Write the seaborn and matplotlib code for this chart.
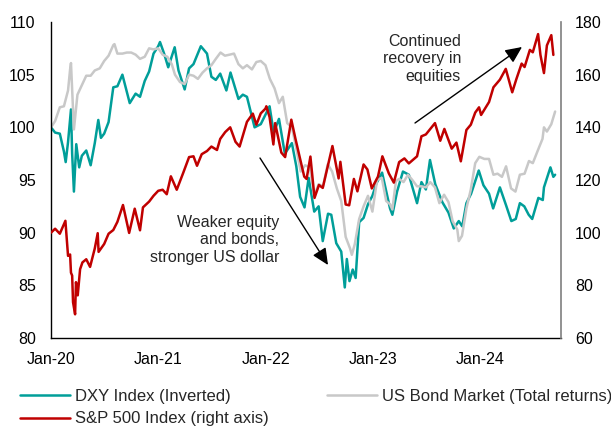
import pandas as pd
import matplotlib
matplotlib.use('Agg')
import matplotlib.pyplot as plt
import seaborn as sns

# DXY index, inverted and rebased to 100 (left axis)
dxy_dates = ["2020-01-01", "2020-01-15", "2020-01-31", "2020-02-14", "2020-02-20", "2020-02-28",
             "2020-03-09", "2020-03-13", "2020-03-19", "2020-03-27", "2020-04-06", "2020-04-15",
             "2020-04-30", "2020-05-15", "2020-05-29", "2020-06-10", "2020-06-19", "2020-06-30",
             "2020-07-15", "2020-07-31", "2020-08-14", "2020-08-31", "2020-09-25", "2020-10-15",
             "2020-10-30", "2020-11-15", "2020-11-30", "2020-12-15", "2020-12-31",
             "2021-01-06", "2021-01-20", "2021-02-03", "2021-02-25", "2021-03-10", "2021-03-31",
             "2021-04-15", "2021-04-30", "2021-05-25", "2021-06-15", "2021-06-30", "2021-07-15",
             "2021-07-30", "2021-08-20", "2021-09-03", "2021-09-30", "2021-10-15", "2021-10-29",
             "2021-11-24", "2021-12-15", "2021-12-31",
             "2022-01-14", "2022-01-28", "2022-02-15", "2022-03-07", "2022-03-31", "2022-04-15",
             "2022-04-28", "2022-05-13", "2022-05-27", "2022-06-15", "2022-06-30", "2022-07-14",
             "2022-08-01", "2022-08-12", "2022-08-29", "2022-09-15", "2022-09-27", "2022-10-04",
             "2022-10-13", "2022-10-24", "2022-11-03", "2022-11-15", "2022-11-30", "2022-12-15",
             "2022-12-30",
             "2023-01-13", "2023-02-01", "2023-02-28", "2023-03-08", "2023-03-24", "2023-04-13",
             "2023-05-03", "2023-05-31", "2023-06-15", "2023-06-30", "2023-07-14", "2023-08-01",
             "2023-08-25", "2023-09-15", "2023-10-03", "2023-10-20", "2023-11-01", "2023-11-15",
             "2023-12-01", "2023-12-27",
             "2024-01-12", "2024-01-31", "2024-02-14", "2024-03-08", "2024-03-29", "2024-04-16",
             "2024-05-01", "2024-05-15", "2024-05-30", "2024-06-14", "2024-06-26", "2024-07-17",
             "2024-08-01", "2024-08-05", "2024-08-27", "2024-09-06", "2024-09-12"]
dxy_vals = [100.0, 99.5, 99.4, 97.7, 96.7, 98.6,
            101.7, 97.5, 93.9, 98.4, 96.2, 97.3,
            97.8, 96.4, 98.5, 100.7, 99.0, 99.4,
            100.5, 103.8, 103.9, 105.0, 102.3, 103.2,
            102.9, 104.4, 105.3, 107.0, 107.7,
            108.1, 107.0, 105.7, 107.6, 105.4, 103.6,
            105.6, 106.0, 107.7, 107.0, 104.8, 104.5,
            105.1, 103.5, 105.2, 102.7, 103.1, 102.9,
            100.0, 100.3, 101.2,
            102.0, 99.5, 100.8, 97.5, 98.5, 96.3,
            93.4, 92.4, 95.2, 92.0, 92.5, 89.2,
            91.8, 91.7, 89.0, 88.2, 84.8, 87.5,
            85.4, 86.5, 85.7, 91.0, 91.4, 92.7,
            93.5,
            94.7, 95.7, 92.3, 91.7, 93.9, 95.8,
            95.5, 92.8, 94.8, 94.1, 96.9, 94.6,
            92.9, 91.9, 90.4, 91.1, 90.6, 92.8,
            93.7, 95.9,
            94.5, 93.7, 92.3, 94.3, 92.6, 91.1,
            91.3, 92.8, 92.5, 91.7, 91.3, 93.3,
            93.1, 94.3, 96.2, 95.3, 95.5]

# US bond market total return, rebased to 100 (left axis)
bond_dates = ["2020-01-01", "2020-01-15", "2020-01-31", "2020-02-14", "2020-02-28", "2020-03-06",
              "2020-03-09", "2020-03-19", "2020-03-31", "2020-04-15", "2020-04-30", "2020-05-15",
              "2020-05-29", "2020-06-15", "2020-06-30", "2020-07-15", "2020-07-31", "2020-08-04",
              "2020-08-14", "2020-08-31", "2020-09-15", "2020-09-30", "2020-10-15", "2020-10-30",
              "2020-11-15", "2020-11-30", "2020-12-15", "2020-12-31",
              "2021-01-15", "2021-01-31", "2021-02-15", "2021-02-26", "2021-03-15", "2021-03-31",
              "2021-04-15", "2021-04-30", "2021-05-15", "2021-05-31", "2021-06-15", "2021-06-30",
              "2021-07-15", "2021-07-31", "2021-08-15", "2021-08-31", "2021-09-15", "2021-09-30",
              "2021-10-15", "2021-10-29", "2021-11-15", "2021-11-30", "2021-12-15", "2021-12-31",
              "2022-01-15", "2022-01-31", "2022-02-15", "2022-02-28", "2022-03-15", "2022-03-31",
              "2022-04-15", "2022-04-30", "2022-05-15", "2022-05-31", "2022-06-15", "2022-06-30",
              "2022-07-15", "2022-07-31", "2022-08-15", "2022-08-31", "2022-09-15", "2022-09-30",
              "2022-10-15", "2022-10-21", "2022-10-31", "2022-11-15", "2022-11-30", "2022-12-15",
              "2022-12-30",
              "2023-01-15", "2023-01-31", "2023-02-15", "2023-02-28", "2023-03-08", "2023-03-20",
              "2023-03-31", "2023-04-15", "2023-04-30", "2023-05-15", "2023-05-31", "2023-06-15",
              "2023-06-30", "2023-07-15", "2023-07-31", "2023-08-15", "2023-08-31", "2023-09-15",
              "2023-09-29", "2023-10-15", "2023-10-20", "2023-10-31", "2023-11-15", "2023-11-30",
              "2023-12-15", "2023-12-29",
              "2024-01-15", "2024-01-31", "2024-02-15", "2024-02-29", "2024-03-15", "2024-03-29",
              "2024-04-15", "2024-04-30", "2024-05-15", "2024-05-31", "2024-06-15", "2024-06-28",
              "2024-07-15", "2024-07-31", "2024-08-05", "2024-08-15", "2024-08-30", "2024-09-12"]
bond_vals = [100.0, 100.6, 101.9, 102.0, 103.5, 105.5,
             106.1, 99.8, 103.1, 104.0, 104.9, 104.9,
             105.4, 105.6, 106.3, 106.8, 107.8, 107.9,
             107.0, 107.0, 107.1, 107.1, 106.9, 106.5,
             106.7, 107.5, 107.4, 107.5,
             106.9, 106.7, 106.0, 105.0, 104.3, 104.1,
             105.0, 104.9, 104.6, 105.2, 105.6, 105.9,
             106.5, 107.1, 106.8, 106.9, 107.0, 106.0,
             105.6, 105.9, 105.5, 106.2, 106.3, 105.9,
             104.6, 103.7, 102.3, 102.9, 100.4, 100.0,
             98.0, 95.8, 96.4, 96.2, 93.5, 94.6,
             94.4, 96.5, 95.8, 94.2, 93.0, 89.6,
             88.5, 87.9, 88.9, 91.3, 92.5, 93.5,
             92.0,
             95.0, 95.2, 93.0, 92.7, 92.2, 94.9,
             95.1, 94.8, 95.5, 95.0, 94.4, 94.4,
             94.3, 94.8, 94.3, 92.8, 93.6, 92.9,
             91.1, 90.3, 89.2, 89.7, 92.3, 94.1,
             96.6, 97.2,
             97.0, 97.0, 95.5, 95.6, 95.3, 96.3,
             94.2, 93.9, 95.5, 95.6, 96.8, 96.6,
             97.8, 98.9, 100.0, 99.6, 100.3, 101.5]

# S&P 500 price index, rebased to 100 (right axis)
spx_dates = ["2020-01-01", "2020-01-15", "2020-01-31", "2020-02-19", "2020-02-28", "2020-03-06",
             "2020-03-09", "2020-03-13", "2020-03-16", "2020-03-23", "2020-03-26", "2020-04-01",
             "2020-04-09", "2020-04-17", "2020-04-30", "2020-05-13", "2020-05-29", "2020-06-08",
             "2020-06-11", "2020-06-30", "2020-07-15", "2020-07-31", "2020-08-14", "2020-09-02",
             "2020-09-23", "2020-10-12", "2020-10-30", "2020-11-09", "2020-11-30", "2020-12-15",
             "2020-12-31",
             "2021-01-15", "2021-01-29", "2021-02-12", "2021-03-04", "2021-03-26", "2021-04-15",
             "2021-04-30", "2021-05-12", "2021-05-28", "2021-06-15", "2021-06-30", "2021-07-19",
             "2021-07-30", "2021-08-16", "2021-09-02", "2021-09-20", "2021-10-04", "2021-10-29",
             "2021-11-18", "2021-11-30", "2021-12-15", "2021-12-31",
             "2022-01-03", "2022-01-14", "2022-01-27", "2022-02-02", "2022-02-23", "2022-03-08",
             "2022-03-29", "2022-04-12", "2022-04-29", "2022-05-12", "2022-05-20", "2022-06-02",
             "2022-06-16", "2022-07-01", "2022-07-14", "2022-08-16", "2022-09-06", "2022-09-12",
             "2022-09-30", "2022-10-12", "2022-10-28", "2022-11-09", "2022-11-30", "2022-12-13",
             "2022-12-28",
             "2023-01-18", "2023-02-02", "2023-02-24", "2023-03-13", "2023-03-31", "2023-04-18",
             "2023-05-03", "2023-05-31", "2023-06-15", "2023-06-30", "2023-07-31", "2023-08-18",
             "2023-09-01", "2023-09-26", "2023-10-12", "2023-10-27", "2023-11-15", "2023-11-30",
             "2023-12-15", "2023-12-28",
             "2024-01-04", "2024-01-31", "2024-02-15", "2024-03-08", "2024-03-28", "2024-04-19",
             "2024-05-03", "2024-05-21", "2024-05-31", "2024-06-18", "2024-06-28", "2024-07-16",
             "2024-07-24", "2024-08-05", "2024-08-15", "2024-08-30", "2024-09-06"]
spx_vals = [100.0, 101.5, 99.6, 104.5, 91.2, 91.7,
            84.8, 83.7, 73.6, 69.0, 81.2, 76.2,
            86.1, 88.7, 89.9, 87.0, 94.0, 99.8,
            92.7, 95.7, 99.6, 101.0, 104.1, 110.5,
            99.9, 109.1, 100.9, 109.6, 111.8, 114.0,
            115.9,
            116.3, 114.6, 121.4, 116.3, 122.7, 128.7,
            129.0, 125.4, 129.8, 131.0, 132.7, 131.4,
            135.6, 138.2, 140.0, 134.5, 132.7, 142.1,
            145.2, 141.0, 145.3, 147.1,
            148.0, 143.9, 133.5, 141.6, 130.4, 128.7,
            142.9, 135.7, 127.5, 121.3, 120.4, 128.9,
            113.2, 118.1, 117.0, 132.9, 120.6, 126.9,
            110.7, 110.4, 120.4, 115.7, 125.9, 124.0,
            116.8,
            121.3, 129.0, 122.5, 119.0, 126.8, 128.2,
            126.3, 129.0, 136.6, 137.3, 141.6, 134.9,
            139.4, 131.9, 134.2, 127.1, 139.0, 141.0,
            145.6, 147.6,
            144.7, 149.6, 155.2, 158.1, 162.2, 153.3,
            158.3, 164.2, 162.9, 169.4, 168.5, 175.4,
            167.5, 160.6, 171.1, 175.0, 167.5]

year_ticks = ["2020-01-01", "2021-01-01", "2022-01-01", "2023-01-01", "2024-01-01"]
year_labels = ["Jan-20", "Jan-21", "Jan-22", "Jan-23", "Jan-24"]

sns.set_style('white')
plt.rcParams['font.family'] = ['Liberation Sans', 'DejaVu Sans']

teal = '#009E99'
grey = '#C8C8C8'
red = '#C00000'

fig = plt.figure(figsize=(6.11, 4.30), dpi=100)
ax = fig.add_axes([51 / 611, 1 - 338 / 430, 510 / 611, 316 / 430])
ax2 = ax.twinx()

sns.lineplot(x=pd.to_datetime(dxy_dates), y=dxy_vals, ax=ax, color=teal, lw=1.8,
             label='DXY Index (Inverted)', legend=False)
sns.lineplot(x=pd.to_datetime(bond_dates), y=bond_vals, ax=ax, color=grey, lw=1.8,
             label='US Bond Market (Total returns)', legend=False)
sns.lineplot(x=pd.to_datetime(spx_dates), y=spx_vals, ax=ax2, color=red, lw=1.8,
             label='S&P 500 Index (right axis)', legend=False)

ax.set_xlim(pd.Timestamp('2020-01-01'), pd.Timestamp('2024-10-02'))
ax.set_ylim(80, 110)
ax2.set_ylim(60, 180)
ax.set_yticks(range(80, 111, 5))
ax2.set_yticks(range(60, 181, 20))
ax.set_xticks(pd.to_datetime(year_ticks))
ax.set_xticklabels(year_labels)
ax.set_xlabel('')
ax.set_ylabel('')
ax2.set_ylabel('')

ax.tick_params(axis='both', length=0, labelsize=11.5, colors='black')
ax.tick_params(axis='y', pad=11)
ax.tick_params(axis='x', pad=10)
ax2.tick_params(axis='y', length=0, labelsize=11.5, pad=10, colors='black')

for a in (ax, ax2):
    a.spines['top'].set_visible(False)
ax.spines['right'].set_visible(False)
ax2.spines['left'].set_visible(False)
ax2.spines['bottom'].set_visible(False)
ax.spines['left'].set_color('black')
ax.spines['bottom'].set_color('black')
ax2.spines['right'].set_color('#7F7F7F')
for s in ('left', 'bottom'):
    ax.spines[s].set_linewidth(1)
ax2.spines['right'].set_linewidth(1.2)

# annotations
head = '-|>,head_length=0.5,head_width=0.23'
ax.annotate('', xy=(328 / 611, 1 - 265 / 430), xycoords='figure fraction',
            xytext=(260 / 611, 1 - 158 / 430), textcoords='figure fraction',
            arrowprops=dict(arrowstyle=head, color='black', lw=1, mutation_scale=20,
                            shrinkA=0, shrinkB=0))
ax.annotate('', xy=(522 / 611, 1 - 47 / 430), xycoords='figure fraction',
            xytext=(415 / 611, 1 - 123 / 430), textcoords='figure fraction',
            arrowprops=dict(arrowstyle=head, color='black', lw=1, mutation_scale=20,
                            shrinkA=0, shrinkB=0))
fig.text(279 / 611, 1 - 240 / 430, 'Weaker equity\nand bonds,\nstronger US dollar',
         ha='right', va='center', fontsize=11.5, linespacing=1.2)
fig.text(461 / 611, 1 - 59 / 430, 'Continued\nrecovery in\nequities',
         ha='right', va='center', fontsize=11.5, linespacing=1.2)

handles = ax.get_lines()[:2] + ax2.get_lines()[:1]
labels = [h.get_label() for h in handles]
order = [0, 2, 1]
fig.legend([handles[i] for i in order], [labels[i] for i in order],
           loc='upper left', bbox_to_anchor=(20 / 611, 1 - 389 / 430), ncol=2,
           frameon=False, fontsize=12, handlelength=3.0, handletextpad=0.3,
           columnspacing=3.5, labelspacing=0.45, borderpad=0, borderaxespad=0)

fig.savefig('out.png', dpi=100)
